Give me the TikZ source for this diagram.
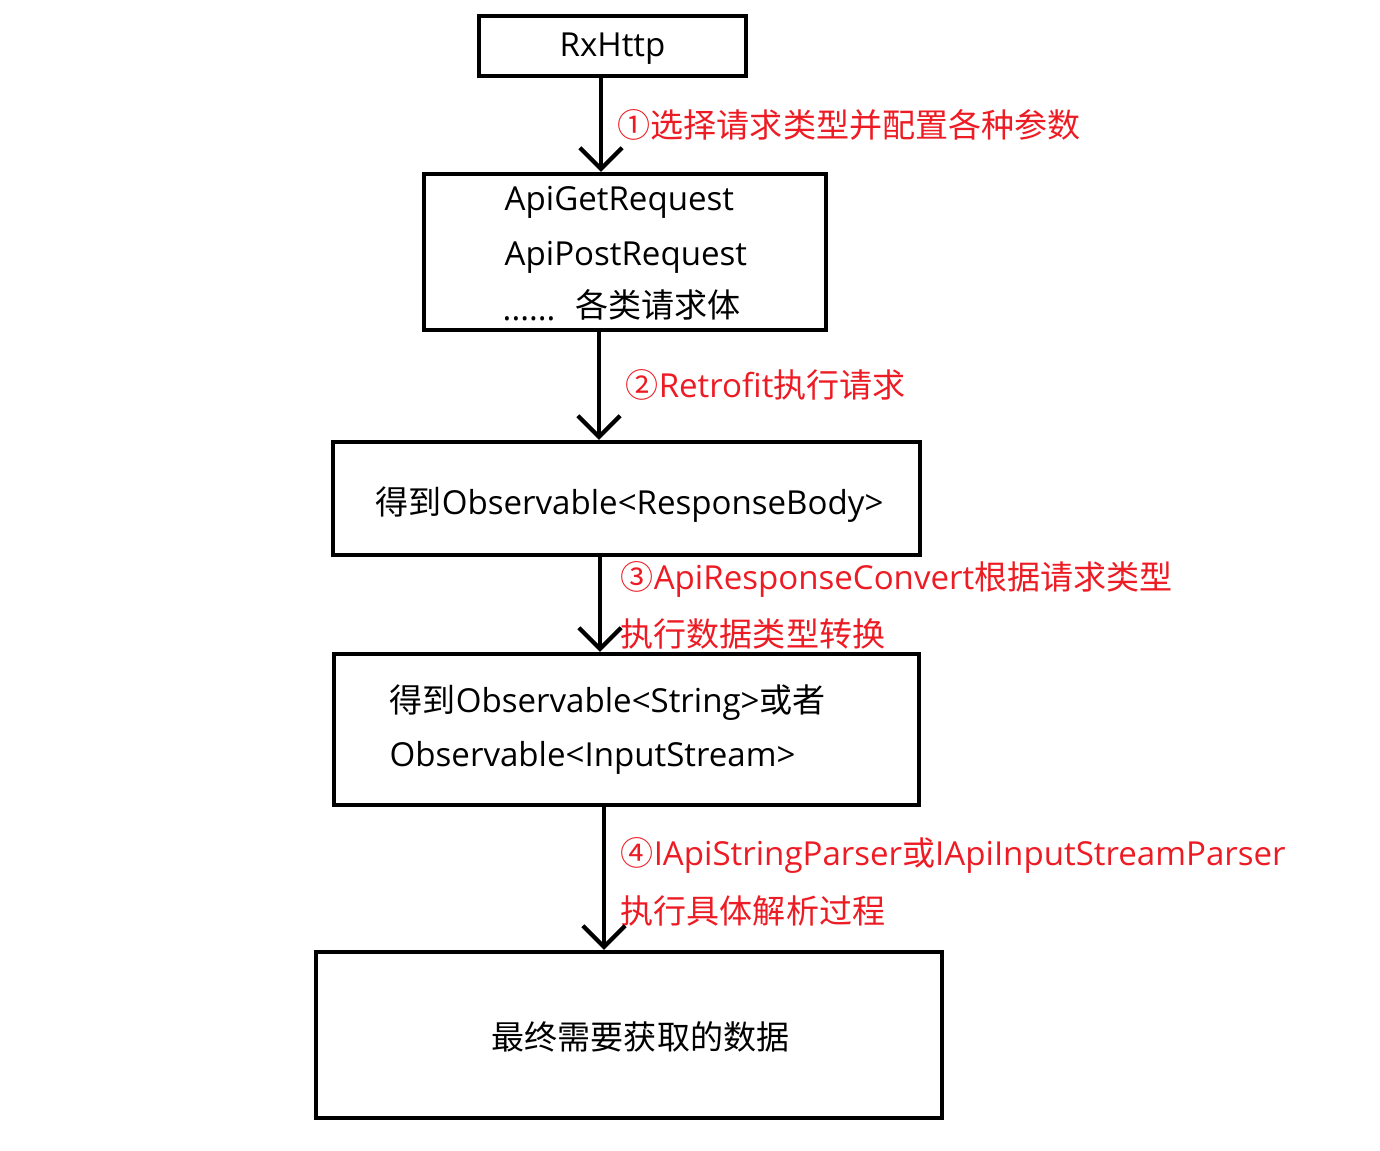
\documentclass[tikz,border=0pt]{standalone}
\usepackage{fontspec}
\setmainfont{Open Sans}
\newfontfamily\cjk{Noto Sans CJK SC}
\usetikzlibrary{arrows.meta}

\begin{document}
\begin{tikzpicture}[x=0.01cm, y=-0.01cm,
    box/.style={draw, line width=1.2pt, inner sep=0pt},
    txt/.style={anchor=west, inner sep=0pt, yshift=-0.8pt, font=\fontsize{9.4}{11}\selectfont},
    note/.style={txt, text={rgb,255:red,237;green,28;blue,36}},
    flow/.style={line width=1.2pt, -{Straight Barb[length=6pt, width=12pt]}}]
            \useasboundingbox (0,0) rectangle (1380,1150);
            \node[box, minimum width=2.67cm, minimum height=0.6cm] (rxhttp) at (612.5, 46) {};
            \node[box, minimum width=4.02cm, minimum height=1.56cm] (request) at (625, 252) {};
            \node[box, minimum width=5.87cm, minimum height=1.13cm] (body) at (626.5, 498.5) {};
            \node[box, minimum width=5.85cm, minimum height=1.51cm] (stream) at (626.5, 729.5) {};
            \node[box, minimum width=6.26cm, minimum height=1.66cm] (result) at (629, 1035) {};
            \coordinate (x1) at (601, 0);
            \coordinate (x2) at (599, 0);
            \coordinate (x3) at (600, 0);
            \coordinate (x4) at (604, 0);
            \node[txt, anchor=center] (rx label) at (rxhttp) {RxHttp};
            \node[txt] (get) at (504, 200) {ApiGetRequest};
            \node[txt] (post) at (504, 255) {ApiPostRequest};
            \node[txt] (dots) at (502, 316) {......};
            \node[txt] (kinds) at (575, 302) {\cjk 各类请求体};
            \node[txt] (body label) at (375, 502) {{\cjk 得到}Observable<ResponseBody>};
            \node[txt] (string label) at (389, 700) {{\cjk 得到}Observable<String>{\cjk 或者}};
            \node[txt] (stream label) at (389, 755) {Observable<InputStream>};
            \node[txt] (result label) at (491, 1034) {\cjk 最终需要获取的数据};
            \node[note] (step one) at (617, 122) {{\cjk ①选择请求类型并配置各种参数}};
            \node[note] (step two) at (625, 382) {{\cjk ②}Retrofit{\cjk 执行请求}};
            \node[note] (step three) at (620, 577) {{\cjk ③}ApiResponseConvert{\cjk 根据请求类型}};
            \node[note] (step three b) at (620, 631) {\cjk 执行数据类型转换};
            \node[note] (step four) at (620, 853) {{\cjk ④}IApiStringParser{\cjk 或}IApiInputStreamParser};
            \node[note] (step four b) at (620, 908) {\cjk 执行具体解析过程};
            \draw[flow] (rxhttp.south -| x1) -- (request.north -| x1);
            \draw[flow] (request.south -| x2) -- (body.north -| x2);
            \draw[flow] (body.south -| x3) -- (stream.north -| x3);
            \draw[flow] (stream.south -| x4) -- (result.north -| x4);
        \end{tikzpicture}
\end{document}
